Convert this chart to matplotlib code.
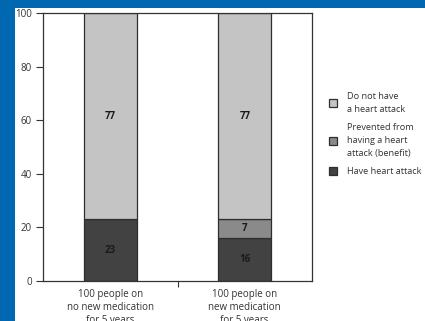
import matplotlib
matplotlib.use("Agg")
import matplotlib.pyplot as plt
from matplotlib.patches import Rectangle

plt.rcParams['font.family'] = ['Open Sans', 'DejaVu Sans']

categories = ["100 people on\nno new medication\nfor 5 years",
              "100 people on\nnew medication\nfor 5 years"]
have_attack = [23, 16]
prevented = [0, 7]
no_attack = [77, 77]
series_labels = ["Have heart attack",
                 "Prevented from\nhaving a heart\nattack (benefit)",
                 "Do not have\na heart attack"]
series_colors = ["#424242", "#8a8a8a", "#c4c4c4"]
yticks = [0, 20, 40, 60, 80, 100]

W, H = 425, 321
fig = plt.figure(figsize=(W / 100, H / 100), dpi=100)
fig.patch.set_facecolor("white")

ax = fig.add_axes([43 / W, 1 - 281 / H, (312 - 43) / W, (281 - 13) / H])
x = list(range(len(categories)))
width = 0.395
edge = "#2e2e2e"

bottoms = [0] * len(x)
for vals, col, lab in zip([have_attack, prevented, no_attack], series_colors, series_labels):
    b = ax.bar(x, vals, width, bottom=bottoms, color=col, edgecolor=edge,
               linewidth=0.9, label=lab, zorder=2)
    for i, (rect, v) in enumerate(zip(b, vals)):
        if v > 0:
            ax.text(rect.get_x() + rect.get_width() / 2, bottoms[i] + v / 2, str(v),
                    ha="center", va="center", fontsize=7, fontweight="bold",
                    color="#1a1a1a", zorder=3)
    bottoms = [bo + v for bo, v in zip(bottoms, vals)]

ax.set_xlim(-0.5, 1.5)
ax.set_ylim(0, 100)
ax.set_yticks(yticks)
ax.set_yticklabels([str(t) for t in yticks])
ax.tick_params(axis="y", direction="out", length=5, width=0.8, color="#333333",
               labelsize=7, labelcolor="#333333", pad=3)
ax.set_xticks(x)
ax.set_xticklabels(categories, linespacing=1.3)
ax.tick_params(axis="x", which="major", length=0, labelsize=7, labelcolor="#333333", pad=5.5)
ax.set_xticks([0.5], minor=True)
ax.tick_params(axis="x", which="minor", direction="out", length=4, width=0.8, color="#333333")
for s in ax.spines.values():
    s.set_color("#333333")
    s.set_linewidth(0.9)

handles, labels = ax.get_legend_handles_labels()
leg = fig.legend(handles[::-1], labels[::-1], loc="upper left",
                 bbox_to_anchor=(329 / W, 1 - 92 / H), frameon=False,
                 fontsize=6.6, handlelength=0.9, handleheight=0.9,
                 handletextpad=1.1, labelspacing=1.0, borderpad=0,
                 borderaxespad=0, labelcolor="#333333")
for t in leg.get_texts():
    t.set_linespacing(1.55)

blue = "#0068b1"
fig.patches.append(Rectangle((0, 0), 15 / W, 1, transform=fig.transFigure,
                             facecolor=blue, edgecolor="none", zorder=10))
fig.patches.append(Rectangle((0, 1 - 8 / H), 1, 8 / H, transform=fig.transFigure,
                             facecolor=blue, edgecolor="none", zorder=10))

fig.savefig("out.png", dpi=100)
